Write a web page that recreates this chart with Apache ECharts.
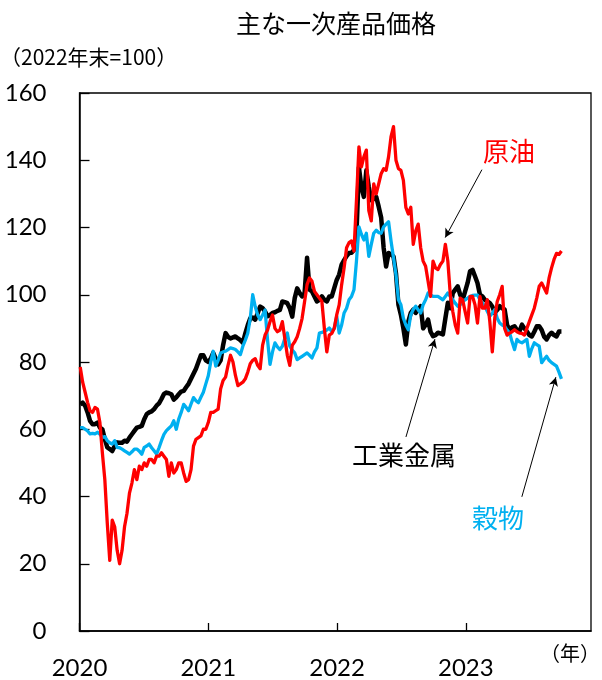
<!DOCTYPE html>
<html>
<head>
<meta charset="utf-8">
<script src="https://cdn.jsdelivr.net/npm/echarts@6/dist/echarts.min.js"></script>
<style>
  html, body { margin: 0; padding: 0; background: #fff; }
  #chart { width: 602px; height: 680px; }
</style>
</head>
<body>
<div id="chart"></div>
<script>
// Weekly index values (end of 2022 = 100), first observation on 2020-01-03
const firstWeek = '2020-01-03';

const crudeOil = [
  78.5, 74, 71, 68, 65.5, 65, 66.5, 66, 62, 53,
  45, 32, 21, 33, 31, 24, 20, 24, 31, 35,
  41, 44, 48, 45, 49, 48, 50, 49, 51, 51,
  50, 52, 52, 53, 52, 51, 46, 50, 47, 48,
  50, 50, 47, 44.5, 45, 48, 55, 57, 57.5, 58,
  60, 60, 62, 65, 65, 65.5, 66, 72, 74.5, 75.5,
  79, 82, 80, 76, 73, 73.5, 74, 75, 77, 79.5,
  80.5, 81, 79, 78, 85, 88, 89.5, 92, 94, 90,
  89, 89.5, 92, 87, 82, 79, 85, 86, 87.5, 90,
  93, 98, 103, 105, 104, 101, 100, 99, 98, 90,
  83, 88, 88.5, 90, 94, 97, 103, 108, 114, 115.5,
  116, 113, 128, 144, 138, 141, 143, 125, 122, 133,
  130, 133, 136, 137.5, 137, 141, 147, 150, 140, 137.5,
  137, 134, 126, 124, 126, 115, 119, 121, 114, 110,
  108.5, 104, 99.5, 110, 108, 107.5, 109, 110, 115, 110,
  100, 95, 91, 88.6, 99, 98.5, 95, 91.6, 99.5, 99.5,
  97, 91.6, 99.5, 96, 96, 98.5, 92, 83, 93, 98,
  100, 102.5, 90, 88, 88.6, 89, 89.6, 89, 88.6, 88.5,
  88, 90, 92, 94, 96, 99, 102.5, 103.5, 102, 100.5,
  105, 108, 110.5, 112.3, 112, 113
];

const industrialMetals = [
  67.4, 67.9, 67, 65, 62.5, 61.5, 61.5, 62, 60.5, 60,
  57, 54.6, 54.1, 53.5, 55, 56.1, 56, 56, 56.6, 56.3,
  57.5, 58.5, 59.5, 60.5, 60.7, 61, 63, 64.5, 65, 65.3,
  66, 67, 67.7, 69, 70.5, 70.9, 70.7, 70.4, 68.8, 69.5,
  70.4, 71.2, 71.4, 72.5, 73.5, 75, 76.5, 78, 80, 82,
  82, 80.5, 80, 81, 82.7, 81, 79.3, 80.5, 85, 88.6,
  87.5, 87, 87.3, 87.6, 87, 86.5, 85.7, 88.5, 91, 93,
  93.2, 92.6, 94.5, 96.5, 96, 95, 93.6, 94, 94.6, 94.8,
  95.2, 95.5, 98, 97.8, 97.5, 96, 93.5, 99, 101.9, 100.5,
  99.5, 100.5, 111, 101.5, 101, 99.5, 98, 98.5, 99.5, 98.5,
  98, 99.5, 99.5, 102, 104.4, 106, 109, 110.3, 111.5, 112.4,
  112.5, 113.3, 118, 137.9, 132, 129.1, 137, 132, 128.1, 128.5,
  129.1, 126.2, 123, 114, 108.4, 112.4, 112, 111.4, 106.4, 97,
  94, 90, 85.2, 92, 94.6, 95.6, 94.6, 95.5, 96.6, 90,
  91, 92.6, 89, 87.7, 88, 88.7, 88.5, 88.2, 93, 97.6,
  96, 100.5, 101.5, 102.5, 100, 98.5, 101, 103.5, 107, 107.4,
  105.5, 103.5, 100, 99.5, 98.5, 98, 97.5, 96.5, 94.6, 95.5,
  96.6, 96, 95.6, 91, 89.6, 90.3, 90.6, 89.5, 89.1, 91.1,
  90, 89.1, 88, 87.6, 89, 90.6, 90.6, 89.5, 87.5, 86.7,
  88, 88.7, 88, 87.6, 89.1, 89.1
];

const grains = [
  60.5, 60.5, 60, 59.5, 58.6, 58.8, 58.6, 59.1, 58.5, 57.6,
  57.8, 56.6, 56, 55.6, 56.6, 54.6, 54.5, 54.1, 53.6, 53.1,
  52.6, 53.3, 54.1, 54.1, 53.5, 52.6, 54.6, 55, 55.6, 54.5,
  53.6, 52.6, 54.5, 56.6, 58.5, 59.6, 60.3, 61, 62.5, 60,
  63, 65, 67.4, 66.5, 65.5, 67.5, 69.4, 68.5, 67.9, 69.5,
  71, 73.5, 75.9, 80, 83.2, 78.8, 80.5, 82.7, 83, 83.2,
  83.7, 84.2, 84, 83.7, 83, 82.2, 84.7, 86.5, 88.6, 93,
  100, 96.5, 94, 92.6, 94, 95.5, 86.5, 79.3, 83, 85.7,
  84.5, 83.7, 84.7, 87, 88.6, 84.7, 83.5, 82.7, 80.7, 81.2,
  81.7, 82.2, 82.7, 82, 81.2, 83, 84.2, 88.6, 88.8, 89.1,
  89.5, 90.1, 89.1, 90, 93.6, 88.6, 91, 94.6, 96, 98.5,
  99.5, 101.5, 110, 120.2, 118, 116.3, 118.3, 111.4, 115, 118.3,
  119.2, 118.5, 118.3, 120.2, 121, 121.7, 116, 111, 106, 98.5,
  97, 93, 91, 89.6, 94, 95.6, 96.6, 95.5, 94.6, 97,
  98.5, 100.5, 100, 99.5, 99.5, 99.5, 99, 98.5, 99.5, 100.5,
  99.5, 98.5, 97.5, 96.6, 97, 98, 98.5, 99, 99.5, 99.8,
  99.9, 99.9, 98.5, 97.5, 96.6, 95, 93.6, 94.5, 95.6, 93,
  91.6, 91, 90.6, 89.5, 88.7, 86, 83.7, 86.7, 86, 85.7,
  86.2, 86.7, 81.7, 84, 85.7, 85.2, 84.7, 79.8, 80.8, 81.7,
  80.5, 79.8, 79.3, 78.8, 77, 75
];

const yearLabels = [2020, 2021, 2022, 2023];
const seriesNames = ['工業金属', '穀物', '原油'];

// Convert a date to a fractional calendar year so each year gets equal width
function fractionalYear(ms) {
  const d = new Date(ms);
  const y = d.getUTCFullYear();
  const start = Date.UTC(y, 0, 1);
  const end = Date.UTC(y + 1, 0, 1);
  return y + (ms - start) / (end - start);
}

const t0 = Date.parse(firstWeek + 'T00:00:00Z');
const weekX = crudeOil.map((_, i) => fractionalYear(t0 + i * 7 * 86400000));
const pairs = vals => vals.map((v, i) => [weekX[i], v]);

const NUM_FONT = 'Lato, "Noto Sans CJK JP", sans-serif';
const JP_FONT = '"Noto Sans CJK JP", sans-serif';

// Leader arrows from each label to its line, in data coordinates
const arrows = [
  [[2023.125, 137.2], [2022.840, 117.0]],
  [[2022.535, 57.7], [2022.760, 86.8]],
  [[2023.435, 39.9], [2023.699, 75.5]]
];

const chart = echarts.init(document.getElementById('chart'), null, { renderer: 'canvas' });

chart.setOption({
  animation: false,
  backgroundColor: '#ffffff',
  grid: {
    left: 79.5, right: 11, top: 93, bottom: 47.5,
    show: true, borderColor: '#000', borderWidth: 1.3, backgroundColor: 'transparent'
  },
  xAxis: {
    type: 'value',
    min: yearLabels[0],
    max: 2023.972,
    interval: 1,
    axisLine: { show: true, lineStyle: { color: '#000', width: 1.5 } },
    axisTick: { show: true, inside: true, length: 8, lineStyle: { color: '#000', width: 1.3 } },
    splitLine: { show: false },
    axisLabel: {
      margin: 25,
      color: '#000',
      fontSize: 24,
      fontFamily: NUM_FONT,
      showMaxLabel: false,
      formatter: v => (yearLabels.indexOf(Math.round(v)) >= 0 && Math.abs(v - Math.round(v)) < 1e-6) ? String(Math.round(v)) : ''
    }
  },
  yAxis: {
    type: 'value',
    min: 0, max: 160, interval: 20,
    axisLine: { show: true, lineStyle: { color: '#000', width: 1.5 } },
    axisTick: { show: true, inside: true, length: 10, lineStyle: { color: '#000', width: 1.3 } },
    splitLine: { show: false },
    axisLabel: { margin: 33, color: '#000', fontSize: 24, fontFamily: NUM_FONT }
  },
  series: [
    {
      name: seriesNames[0], type: 'line', data: pairs(industrialMetals),
      showSymbol: false, symbol: 'none', z: 2,
      lineStyle: { color: '#000000', width: 4.5, join: 'round' }
    },
    {
      name: seriesNames[1], type: 'line', data: pairs(grains),
      showSymbol: false, symbol: 'none', z: 3,
      lineStyle: { color: '#00B0F0', width: 3.3, join: 'round' }
    },
    {
      name: seriesNames[2], type: 'line', data: pairs(crudeOil),
      showSymbol: false, symbol: 'none', z: 4,
      lineStyle: { color: '#FF0000', width: 3.3, join: 'round' },
      markLine: {
        silent: true,
        symbol: ['none', 'arrow'],
        symbolSize: [7, 9],
        label: { show: false },
        lineStyle: { color: '#000', width: 1, type: 'solid' },
        data: arrows.map(a => [{ coord: a[0] }, { coord: a[1] }])
      }
    }
  ],
  graphic: [
    { type: 'text', left: 236, top: 11, style: { text: '主な一次産品価格', font: '25px ' + JP_FONT, fill: '#000' } },
    { type: 'text', left: 0, top: 47, style: { text: '（2022年末=100）', font: '21px ' + JP_FONT, fill: '#000' } },
    { type: 'text', right: 2, top: 643, style: { text: '（年）', font: '20px ' + JP_FONT, fill: '#000' } },
    { type: 'text', left: 483, top: 138, style: { text: '原油', font: '26px ' + JP_FONT, fill: '#FF0000' } },
    { type: 'text', left: 352, top: 442, style: { text: '工業金属', font: '26px ' + JP_FONT, fill: '#000' } },
    { type: 'text', left: 472, top: 505, style: { text: '穀物', font: '26px ' + JP_FONT, fill: '#00B0F0' } }
  ]
});
</script>
</body>
</html>
